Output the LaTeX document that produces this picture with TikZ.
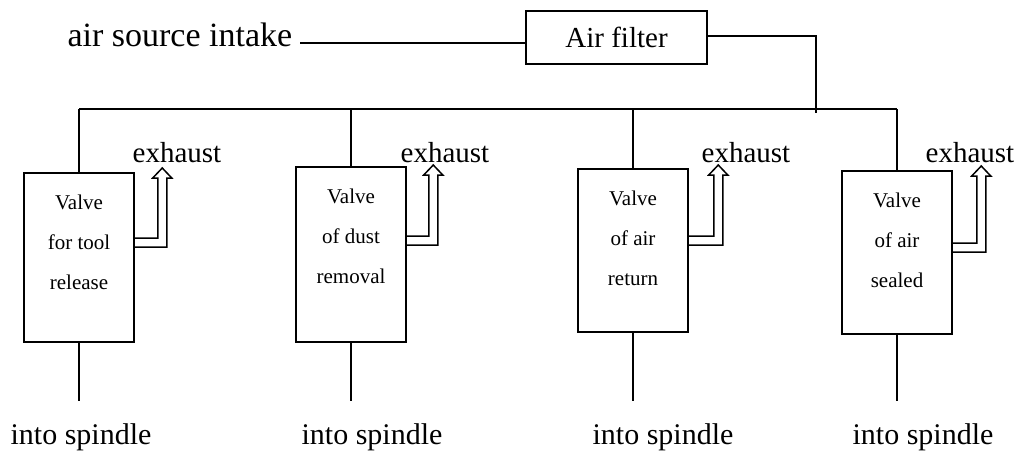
\documentclass[tikz,border=0pt]{standalone}
\usepackage{fontspec}
\setmainfont{Liberation Serif}
\newcommand\exharrow[4]{% #1 box, #2 inner y, #3 dx to inner vertical, #4 tip y
  \draw[arrowline] (#1.east |- 0,#2) -- ++(#3,0) -- ++(0,{-(#2-#4-10)}) -- ++(-5,0)
    -- ++(9.5,-10) -- ++(9.5,10) -- ++(-5,0) -- ++(0,{#2-#4-1}) -- ++({-(#3+9)},0);}
\begin{document}
\begin{tikzpicture}[x=1pt,y=-1pt,line width=1.5pt,
  box/.style={draw,line width=1.5pt,inner sep=0pt},
  lbl/.style={inner sep=0pt,font=\fontsize{29}{32}\selectfont},
  vtext/.style={inner sep=0pt,align=center,anchor=north,font=\fontsize{21}{40}\selectfont},
  arrowline/.style={line width=1.5pt,line join=miter}]
\useasboundingbox[fill=white] (0,0) rectangle (1023,452);
% top
\node[box,minimum width=181pt,minimum height=53pt,font=\fontsize{29}{32}\selectfont] (af) at (616.5,37.5) {Air filter};
\node[lbl,anchor=base east,font=\fontsize{34}{36}\selectfont] (src) at (293,47) {air source intake};
\coordinate (l1) at (300,43);
\draw (l1) -- (af.west |- l1);
\coordinate (tap) at (816,113);
\draw (af.east |- 0,36) -| (tap);
\coordinate (busL) at (79,109);
\coordinate (busR) at (897,109);
\draw (busL) -- (busR);
% valves
\node[box,minimum width=110pt,minimum height=169pt] (v1) at (79,257.5) {};
\node[box,minimum width=110pt,minimum height=175pt] (v2) at (351,254.5) {};
\node[box,minimum width=110pt,minimum height=163pt] (v3) at (633,250.5) {};
\node[box,minimum width=110pt,minimum height=163pt] (v4) at (897,252.5) {};
\node[vtext] (t1) at ([yshift=-22pt]v1.north) {Valve\\for tool\\release};
\node[vtext] (t2) at ([yshift=-22pt]v2.north) {Valve\\of dust\\removal};
\node[vtext] (t3) at ([yshift=-22pt]v3.north) {Valve\\of air\\return};
\node[vtext] (t4) at ([yshift=-22pt]v4.north) {Valve\\of air\\sealed};
\foreach \i in {1,...,4} {
  \draw (v\i.north) -- (v\i.north |- busL);
  \coordinate (e\i) at (v\i.south |- 0,401);
  \draw (v\i.south) -- (e\i);
}
% exhaust
\node[lbl,anchor=base] (x1) at (177,162) {exhaust};
\node[lbl,anchor=base] (x2) at (445,162) {exhaust};
\node[lbl,anchor=base] (x3) at (746,162) {exhaust};
\node[lbl,anchor=base] (x4) at (970,162) {exhaust};
\exharrow{v1}{238}{23}{168}
\exharrow{v2}{236}{22}{165}
\exharrow{v3}{236}{25}{165}
\exharrow{v4}{243}{24}{166}
% into spindle
\node[lbl,anchor=base,font=\fontsize{30}{32}\selectfont] (s1) at (81,444) {into spindle};
\node[lbl,anchor=base,font=\fontsize{30}{32}\selectfont] (s2) at (372,444) {into spindle};
\node[lbl,anchor=base,font=\fontsize{30}{32}\selectfont] (s3) at (663,444) {into spindle};
\node[lbl,anchor=base,font=\fontsize{30}{32}\selectfont] (s4) at (923,444) {into spindle};
\end{tikzpicture}
\end{document}
